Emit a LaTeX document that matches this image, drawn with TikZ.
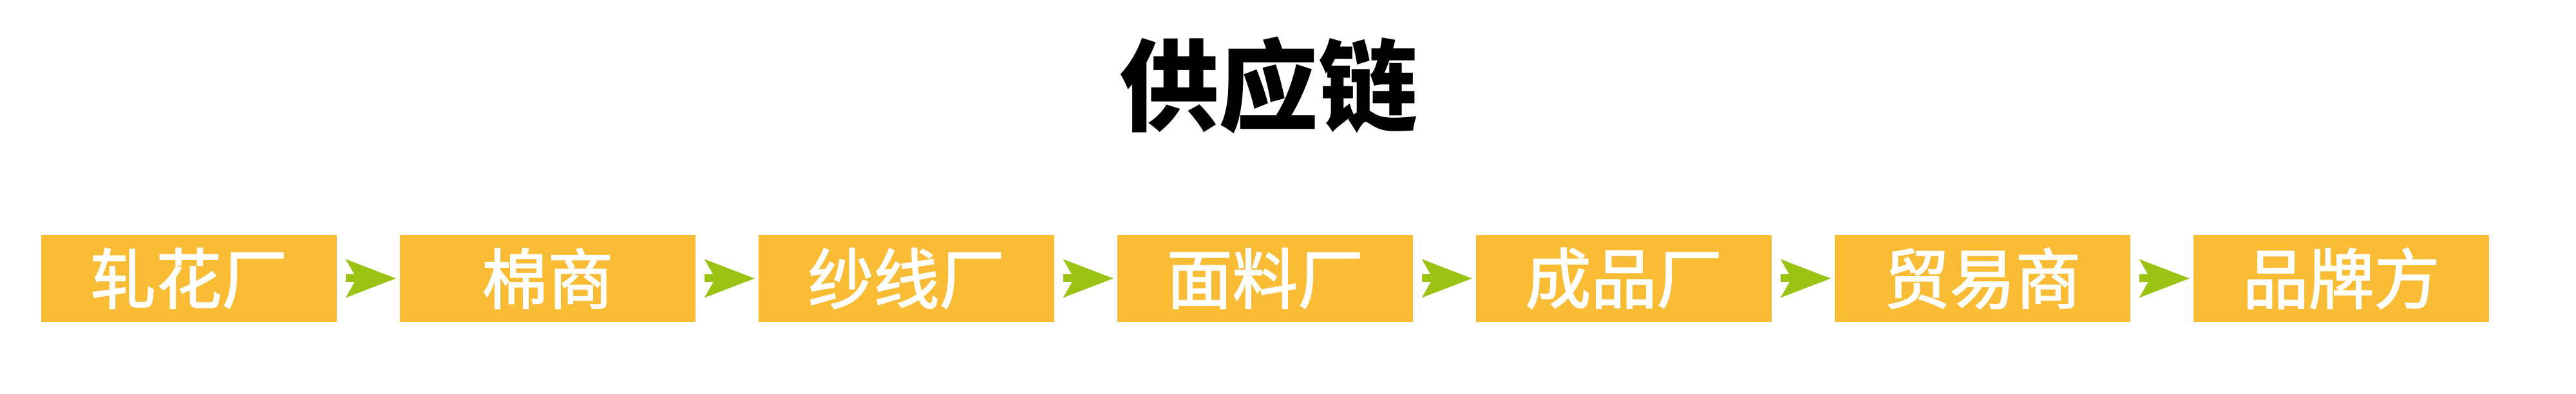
\documentclass[tikz,border=0pt]{standalone}
\usepackage{fontspec}
\newfontfamily\cjk{Noto Sans CJK SC}
\newfontfamily\cjkstage{Noto Sans CJK SC}[FakeBold=1.8]
\usetikzlibrary{positioning,arrows.meta}
\definecolor{stageFill}{HTML}{F9BC34}
\definecolor{flowGreen}{HTML}{9BC314}

\begin{document}
\begin{tikzpicture}[inner sep=0in,outer sep=0in,
	stage/.style={fill=stageFill, minimum width=4.59cm, minimum height=1.35cm, text=white, font=\cjkstage\fontsize{29}{29}\selectfont},
	flow/.style={draw=flowGreen, line width=0.12cm, shorten <=0.14cm, shorten >=0.06cm,
		-{Stealth[length=0.77cm, width=0.58cm, inset=0.16cm, fill=flowGreen]}}]
	\useasboundingbox (0,0) rectangle (40,6.12);
	\node (title) at (19.7,4.8) {\cjk\bfseries\fontsize{44}{44}\selectfont 供应链};
	
	\node[stage] (s1) at (2.935,1.795) {轧花厂};
	\node[stage, right=0.98cm of s1] (s2) {棉商};
	\node[stage, right=0.98cm of s2] (s3) {纱线厂};
	\node[stage, right=0.98cm of s3] (s4) {面料厂};
	\node[stage, right=0.98cm of s4] (s5) {成品厂};
	\node[stage, right=0.98cm of s5] (s6) {贸易商};
	\node[stage, right=0.98cm of s6] (s7) {品牌方};
	
	\foreach \a/\b in {s1/s2,s2/s3,s3/s4,s4/s5,s5/s6,s6/s7}
		\draw[flow] (\a) -- (\b);
\end{tikzpicture}
\end{document}
